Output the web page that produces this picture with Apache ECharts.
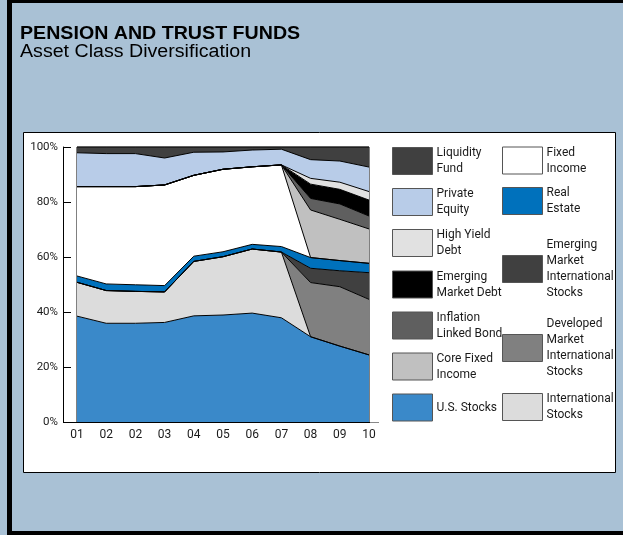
<!DOCTYPE html>
<html>
<head>
<meta charset="utf-8">
<script src="https://cdn.jsdelivr.net/npm/echarts@6/dist/echarts.min.js"></script>
<style>
  html, body { margin: 0; padding: 0; background: #a9c1d5; }
  #chart { width: 623px; height: 535px; }
</style>
</head>
<body>
<div id="chart"></div>
<script>
// ---- Data (percent of total assets) ----
var years = ['01', '02', '02', '03', '04', '05', '06', '07', '08', '09', '10'];
var usStocks      = [38.5, 35.9, 35.9, 36.2, 38.6, 38.9, 39.6, 37.9, 31.0, 27.6, 24.4];
var intlStocks    = [12.3, 11.9, 11.6, 11.1, 19.8, 21.2, 23.3, 23.9, 0, 0, 0];
var devIntl       = [0, 0, 0, 0, 0, 0, 0, 0, 19.7, 21.6, 20.2];
var emIntl        = [0, 0, 0, 0, 0, 0, 0, 0, 5.2, 5.8, 9.7];
var realEstate    = [2.3, 2.4, 2.4, 2.3, 1.9, 1.8, 1.7, 2.0, 3.9, 3.7, 3.4];
var fixedIncome   = [32.5, 35.4, 35.7, 36.6, 29.4, 30.0, 28.2, 29.7, 0, 0, 0];
var coreFixed     = [0, 0, 0, 0, 0, 0, 0, 0, 17.3, 15.0, 12.5];
var inflation     = [0, 0, 0, 0, 0, 0, 0, 0, 4.2, 5.6, 4.7];
var emDebt        = [0, 0, 0, 0, 0, 0, 0, 0, 5.2, 5.3, 5.8];
var highYield     = [0, 0, 0, 0, 0, 0, 0, 0, 2.1, 2.6, 3.1];
var privateEquity = [12.3, 12.0, 12.0, 9.8, 8.4, 6.3, 6.1, 5.7, 6.8, 7.7, 8.9];
var liquidity     = [2.1, 2.4, 2.4, 4.0, 1.9, 1.8, 1.1, 0.8, 4.6, 5.1, 7.3];

var seriesNames = ['U.S. Stocks', 'International Stocks', 'Developed Market International Stocks',
  'Emerging Market International Stocks', 'Real Estate', 'Fixed Income', 'Core Fixed Income',
  'Inflation Linked Bond', 'Emerging Market Debt', 'High Yield Debt', 'Private Equity', 'Liquidity Fund'];
var legendLabels = ['U.S. Stocks', 'International\nStocks', 'Developed\nMarket\nInternational\nStocks',
  'Emerging\nMarket\nInternational\nStocks', 'Real\nEstate', 'Fixed\nIncome', 'Core Fixed\nIncome',
  'Inflation\nLinked Bond', 'Emerging\nMarket Debt', 'High Yield\nDebt', 'Private\nEquity', 'Liquidity\nFund'];
var seriesValues = [usStocks, intlStocks, devIntl, emIntl, realEstate, fixedIncome, coreFixed,
  inflation, emDebt, highYield, privateEquity, liquidity];
var yTicks = { min: 0, max: 100, interval: 20 };

// ---- Styling ----
var fills = ['#3a89c9', '#dcdcdc', '#808080', '#404040', '#0071bc', '#ffffff', '#c0c0c0',
  '#5f5f5f', '#000000', '#e1e1e1', '#b8cce8', '#404040'];
// legend swatch placement: [left, centerY]
var legendPos = [[392, 407], [502, 407], [502, 348], [502, 269], [502, 201], [502, 160.5],
  [392, 366.5], [392, 325.5], [392, 284.5], [392, 243], [392, 202], [392, 161]];
var FONT = 'Roboto, "Open Sans", sans-serif';
var LH = 16;

var series = seriesNames.map(function (n, i) {
  return {
    name: n, type: 'line', stack: 'total', data: seriesValues[i],
    symbol: 'none', smooth: false,
    lineStyle: { color: '#000', width: 1 },
    itemStyle: { color: fills[i] },
    areaStyle: { color: fills[i], opacity: 1 },
    emphasis: { disabled: true }, silent: true, animation: false
  };
});

var legends = seriesNames.map(function (n, i) {
  var lines = legendLabels[i].split('\n').length;
  var h = Math.max(27, lines * LH);
  return {
    data: [n], left: legendPos[i][0], top: legendPos[i][1] - h / 2,
    orient: 'vertical', padding: 0, itemGap: 0, itemWidth: 40, itemHeight: 27,
    icon: 'rect', selectedMode: false,
    itemStyle: { color: fills[i], borderColor: '#555', borderWidth: 1 },
    formatter: function () { return legendLabels[i]; },
    textStyle: { fontFamily: FONT, fontSize: 12, lineHeight: LH, color: '#1a1a1a', padding: [0, 0, 0, -1] }
  };
});

var chart = echarts.init(document.getElementById('chart'), null, { renderer: 'canvas' });
chart.setOption({
  backgroundColor: '#a9c1d5',
  animation: false,
  grid: { left: 77, right: 254, top: 147, bottom: 113, show: true, borderColor: '#000', borderWidth: 1, backgroundColor: 'transparent' },
  legend: legends,
  xAxis: {
    type: 'category', data: years, boundaryGap: false,
    axisLine: { show: false }, axisTick: { show: false }, splitLine: { show: false },
    axisLabel: { interval: 0, margin: 7, fontFamily: FONT, fontSize: 12, color: '#1a1a1a' }
  },
  yAxis: {
    type: 'value', min: yTicks.min, max: yTicks.max, interval: yTicks.interval, offset: 14,
    axisLine: { show: true, lineStyle: { color: '#000', width: 1 } },
    axisTick: { show: true, inside: true, length: 8, lineStyle: { color: '#000', width: 1 } },
    splitLine: { show: false },
    axisLabel: { formatter: '{value}%', margin: 5, fontFamily: FONT, fontSize: 11.5, color: '#1a1a1a' }
  },
  series: series,
  graphic: {
    elements: [
      { type: 'rect', z: -10, shape: { x: 23.5, y: 132.5, width: 592, height: 340 }, style: { fill: '#fff', stroke: '#000', lineWidth: 1 } },
      { type: 'rect', z: 50, shape: { x: 7, y: 0, width: 5, height: 535 }, style: { fill: '#000' } },
      { type: 'rect', z: 50, shape: { x: 7, y: 0, width: 616, height: 3 }, style: { fill: '#000' } },
      { type: 'rect', z: 50, shape: { x: 7, y: 531, width: 616, height: 4 }, style: { fill: '#000' } },
      { type: 'line', z: 50, shape: { x1: 63, y1: 422.5, x2: 370, y2: 422.5 }, style: { stroke: '#000', lineWidth: 1 } },
      { type: 'line', z: 50, shape: { x1: 370, y1: 422.5, x2: 379, y2: 422.5 }, style: { stroke: '#888', lineWidth: 1 } },
      { type: 'text', z: 50, x: 20, y: 34.5, scaleX: 1.09, style: { text: 'PENSION AND TRUST FUNDS', fill: '#000', font: 'bold 18px "Liberation Sans", Arial, sans-serif', verticalAlign: 'middle', align: 'left' } },
      { type: 'text', z: 50, x: 20, y: 52.5, scaleX: 1.09, style: { text: 'Asset Class Diversification', fill: '#000', font: '18px "Liberation Sans", Arial, sans-serif', verticalAlign: 'middle', align: 'left' } }
    ]
  }
});
</script>
</body>
</html>
